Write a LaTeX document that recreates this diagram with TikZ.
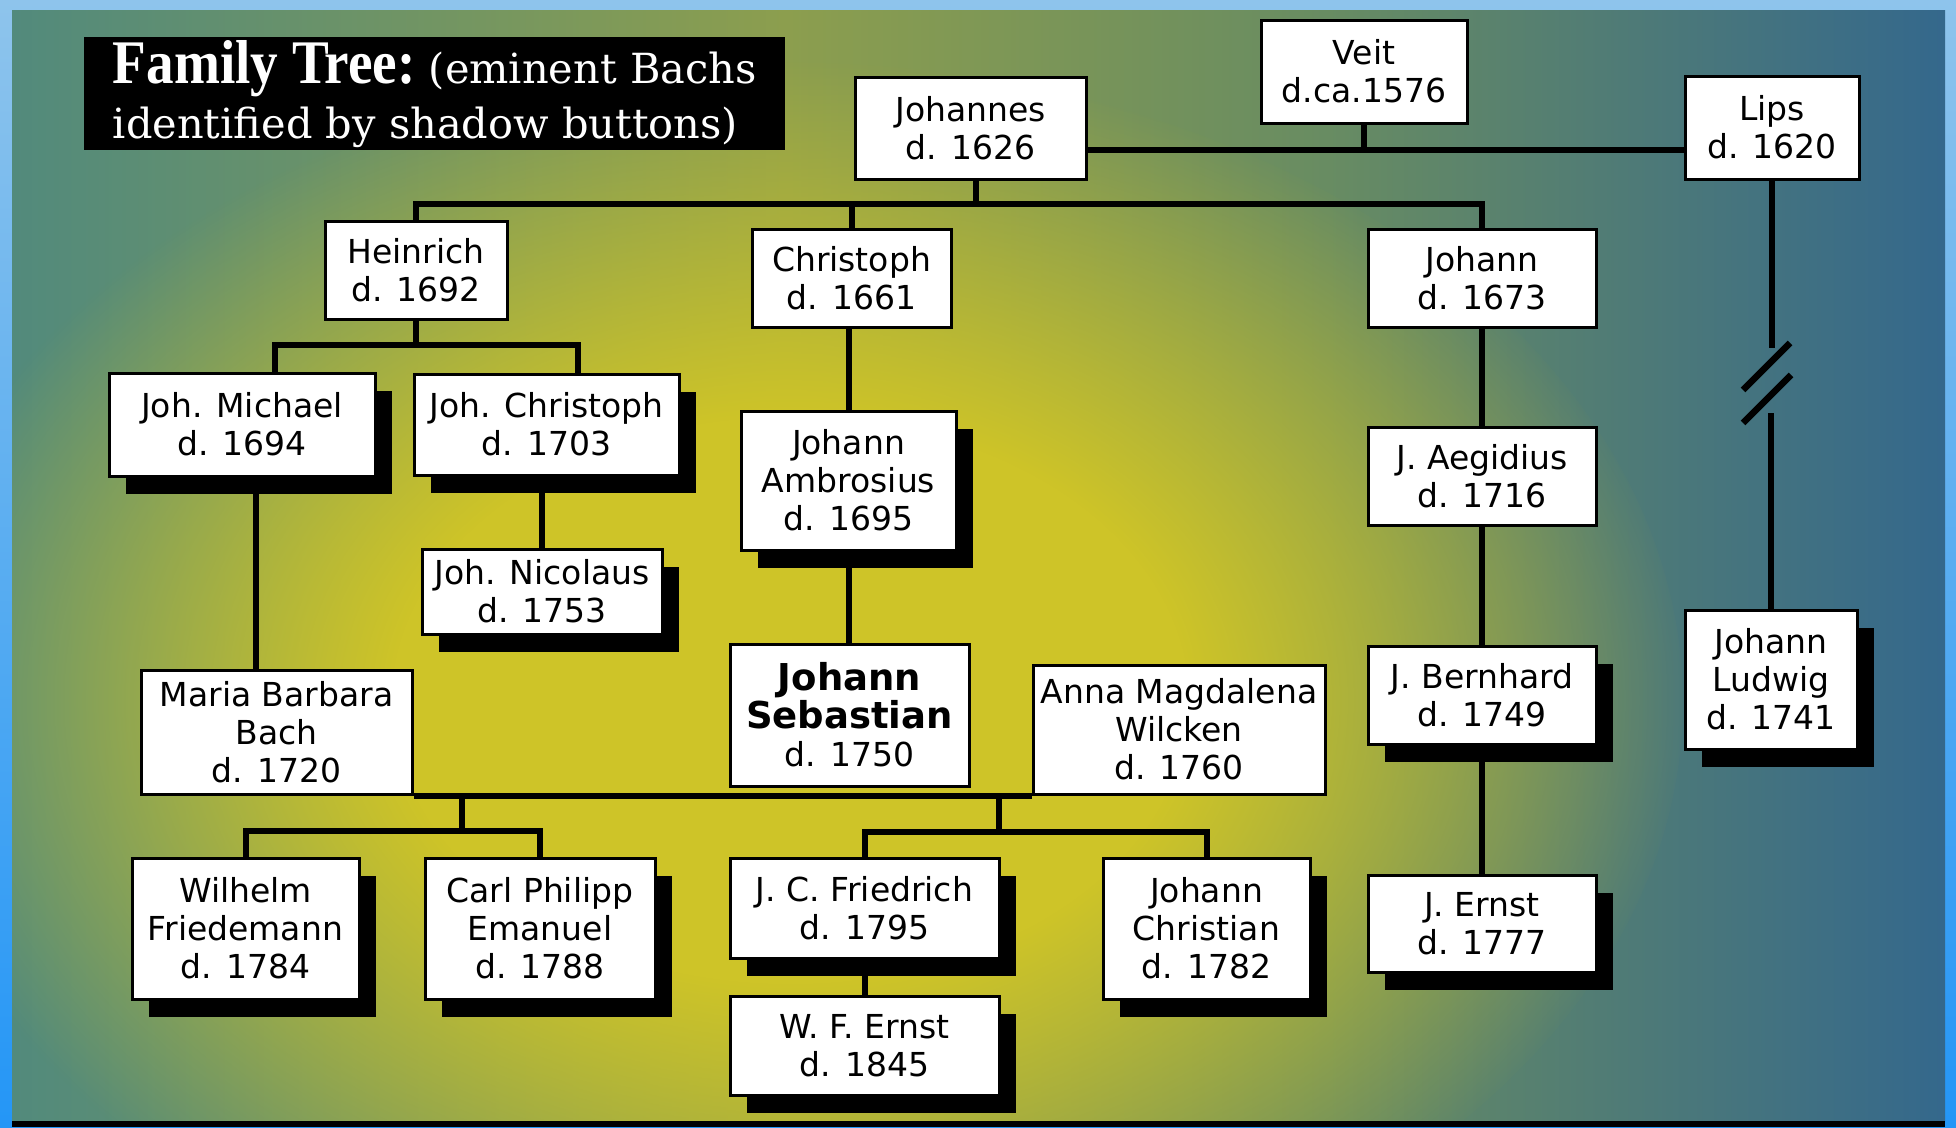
\documentclass[tikz,border=0pt]{standalone}
\usepackage{fontspec}
\usepackage{graphicx}
\usetikzlibrary{shadows,fadings}
\newfontfamily\bachfont{DejaVu Sans}
\newfontfamily\plaquefont{DejaVu Serif}
\newfontfamily\plaquebold{Liberation Serif}
\newcommand\jsbold{\bfseries\fontsize{37}{40}\selectfont}
\definecolor{frametop}{RGB}{142,196,236}
\definecolor{framebot}{RGB}{36,150,246}
\definecolor{bgleft}{RGB}{82,138,124}
\definecolor{bgmid}{RGB}{140,158,78}
\definecolor{bgmidr}{RGB}{104,140,98}
\definecolor{bgright}{RGB}{52,104,140}
\definecolor{glowyellow}{RGB}{206,196,40}
\pgfdeclarehorizontalshading{bgbase}{100bp}{color(0bp)=(bgleft); color(25bp)=(bgleft); color(45bp)=(bgmid); color(59bp)=(bgmidr); color(75bp)=(bgright); color(100bp)=(bgright)}
\pgfdeclareradialshading{glowshade}{\pgfpointorigin}{color(0bp)=(white); color(11bp)=(white); color(25bp)=(black); color(50bp)=(black)}
\pgfdeclarefading{glowfade}{\pgfuseshading{glowshade}}

\begin{document}
\begin{tikzpicture}[x=1pt,y=-1pt,
 person/.style={draw,line width=3pt,fill=white,align=center,inner sep=0pt,font=\bachfont\fontsize{33}{38}\selectfont},
 dims/.style 2 args={minimum width=#1pt,minimum height=#2pt},
 shadowed/.style={general shadow={fill=black,shadow xshift=17pt,shadow yshift=-18pt}},
 link/.style={line width=6pt},
 breakmark/.style={line width=6.5pt},
 plaque/.style={fill=black,text=white,anchor=north west,align=left,inner sep=0pt,minimum width=701pt,minimum height=113pt,font=\plaquefont\fontsize{41.5}{55}\selectfont}]
\useasboundingbox (0,0) rectangle (1956,1127);
\shade[top color=frametop,bottom color=framebot] (0,0) rectangle (1956,1127);
\begin{scope}
\clip (12,10) rectangle (1945,1121);
\shade[shading=bgbase] (12,10) rectangle (1945,1121);
\fill[glowyellow,path fading=glowfade] (790,700) ellipse [x radius=900,y radius=640];
\end{scope}
\fill[black] (12,1121) rectangle (1945,1127);

\node[plaque] (title) at (84,37) {{\plaquebold\bfseries\fontsize{62}{55}\selectfont\scalebox{0.89}[1]{Family Tree:}} (eminent Bachs\\identified by shadow buttons)};

\node[person,dims={206}{103}] (veit) at (1364,71.5) {Veit\\d.ca.1576};
\node[person,dims={231}{102}] (johannes) at (970.5,128) {Johannes\\d. 1626};
\node[person,dims={174}{103}] (lips) at (1772,127.5) {Lips\\d. 1620};
\node[person,dims={182}{98}] (heinrich) at (416,270) {Heinrich\\d. 1692};
\node[person,dims={199}{98}] (christoph) at (851.5,278) {Christoph\\d. 1661};
\node[person,dims={228}{98}] (johann) at (1482,278) {Johann\\d. 1673};
\node[person,shadowed,dims={266}{103}] (michael) at (242,424.5) {Joh. Michael\\d. 1694};
\node[person,shadowed,dims={265}{101}] (jchristoph) at (546.5,424.5) {Joh. Christoph\\d. 1703};
\node[person,shadowed,dims={215}{139}] (ambrosius) at (848.5,480.5) {Johann\\Ambrosius\\d. 1695};
\node[person,dims={228}{98}] (aegidius) at (1482,476) {J. Aegidius\\d. 1716};
\node[person,shadowed,dims={240}{85}] (nicolaus) at (542,591.5) {Joh. Nicolaus\\d. 1753};
\node[person,dims={271}{124}] (maria) at (276.5,732) {Maria Barbara\\Bach\\d. 1720};
\node[person,dims={239}{142}] (sebastian) at (849.5,715) {{\jsbold Johann}\\{\jsbold Sebastian}\\d. 1750};
\node[person,dims={292}{129}] (anna) at (1179,729.5) {Anna Magdalena\\Wilcken\\d. 1760};
\node[person,shadowed,dims={228}{98}] (bernhard) at (1482,695) {J. Bernhard\\d. 1749};
\node[person,shadowed,dims={172}{139}] (ludwig) at (1771,679.5) {Johann\\Ludwig\\d. 1741};
\node[person,shadowed,dims={227}{141}] (wilhelm) at (245.5,928.5) {Wilhelm\\Friedemann\\d. 1784};
\node[person,shadowed,dims={230}{141}] (carl) at (540,928.5) {Carl Philipp\\Emanuel\\d. 1788};
\node[person,shadowed,dims={269}{100}] (friedrich) at (864.5,908) {J. C. Friedrich\\d. 1795};
\node[person,shadowed,dims={207}{141}] (christian) at (1206.5,928.5) {Johann\\Christian\\d. 1782};
\node[person,shadowed,dims={269}{99}] (wfernst) at (864.5,1045.5) {W. F. Ernst\\d. 1845};
\node[person,shadowed,dims={228}{97}] (jernst) at (1482,923.5) {J. Ernst\\d. 1777};

\coordinate (top) at (1364,150);
\coordinate (gen1) at (976,204);
\coordinate (hb) at (419,345);
\coordinate (mb) at (462,831);
\coordinate (am) at (999,832);
\coordinate (brk1) at (1770,348);
\coordinate (brk2) at (1770,413);

\draw[link] (johannes.east |- top)--(lips.west |- top);\draw[link] (veit)--(veit |- top);
\draw[link] (gen1 |- johannes.south)--(gen1);
\draw[link] (heinrich) |- (gen1) -| (johann);\draw[link] (christoph)--(christoph |- gen1);
\draw[link] (heinrich)--(heinrich |- hb);
\draw[link] ([xshift=33pt]michael.north) |- (hb) -| ([xshift=31pt]jchristoph.north);
\draw[link] ([xshift=14pt]michael.south)--([xshift=14pt]michael.south |- maria.north);
\draw[link] (nicolaus)--(nicolaus |- jchristoph.south);
\draw[link] (ambrosius)--(ambrosius |- christoph.south);\draw[link] (ambrosius)--(ambrosius |- sebastian.north);
\draw[link] (maria.south east)--(anna.south west);
\draw[link] (mb |- maria.south)--(mb);\draw[link] (wilhelm) |- (mb) -| (carl);
\draw[link] (am |- anna.south)--(am);\draw[link] (friedrich) |- (am) -| (christian);
\draw[link] (friedrich)--(wfernst);
\draw[link] (johann)--(aegidius);\draw[link] (aegidius)--(bernhard);\draw[link] (bernhard)--(jernst);
\draw[link] (lips)--(lips |- brk1);\draw[link] (ludwig)--(ludwig |- brk2);
\draw[breakmark] ([shift={(-27,42)}]brk1)--++(47,-47);
\draw[breakmark] ([shift={(-27,10)}]brk2)--++(48,-48);
\end{tikzpicture}
\end{document}
